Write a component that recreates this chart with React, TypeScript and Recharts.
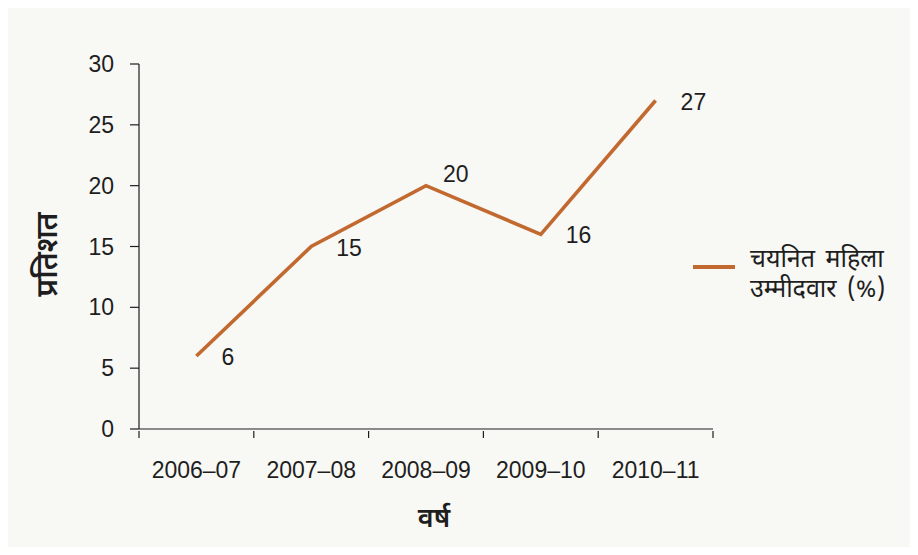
import React from "react";
import { LineChart, Line, XAxis, YAxis, LabelList } from "recharts";

const years = ["2006–07", "2007–08", "2008–09", "2009–10", "2010–11"];
const womenSelected = [6, 15, 20, 16, 27];
const yTicks = [0, 5, 10, 15, 20, 25, 30];

const seriesName = "चयनित महिला उम्मीदवार (%)";
const legendLines = ["चयनित महिला", "उम्मीदवार (%)"];
const xTitle = "वर्ष";
const yTitle = "प्रतिशत";

const data = years.map((year, i) => ({ year, value: womenSelected[i] }));

const LINE = "#c2692f";
const INK = "#1e1e1e";
const FONT = "'Liberation Sans', Arial, sans-serif";
const DEVA = "'Noto Sans Devanagari', 'Lohit Devanagari', 'Noto Sans', sans-serif";

// category label centred in the band, tick marks on band edges
function YearTick(props: any) {
  const { x, y, payload, index } = props;
  const half = payload?.offset || 57.4;
  const last = index === years.length - 1;
  return (
    <g>
      <line x1={x - half} y1={y} x2={x - half} y2={y + 7} stroke={INK} strokeWidth={1.2} />
      {last && <line x1={x + half} y1={y} x2={x + half} y2={y + 7} stroke={INK} strokeWidth={1.2} />}
      <text x={x} y={y + 41} textAnchor="middle" dominantBaseline="middle" fill={INK} fontSize={23} fontFamily={FONT}>
        {payload.value}
      </text>
    </g>
  );
}

function ValueLabel(props: any) {
  const { x, y, value, index } = props;
  const prev = womenSelected[index - 1];
  const next = womenSelected[index + 1];
  const peak = prev !== undefined && next !== undefined && value > prev && value > next;
  return (
    <text
      x={x + (peak ? 17 : 25)}
      y={y + (peak ? -10 : 3)}
      dominantBaseline="middle"
      fill={INK}
      fontSize={23}
      fontFamily={FONT}
    >
      {value}
    </text>
  );
}

function YTitle(props: any) {
  const { x, y, height } = props.viewBox;
  const cx = x + 10;
  const cy = y + height / 2 + 8;
  return (
    <text
      x={cx}
      y={cy}
      transform={`rotate(-90 ${cx} ${cy})`}
      textAnchor="middle"
      dominantBaseline="middle"
      fill={INK}
      fontSize={30}
      fontWeight={600}
      fontFamily={DEVA}
    >
      {yTitle}
    </text>
  );
}

function XTitle(props: any) {
  const { x, y, width, height } = props.viewBox;
  return (
    <text
      x={x + width / 2 + 8}
      y={y + height - 9}
      textAnchor="middle"
      dominantBaseline="middle"
      fill={INK}
      fontSize={27}
      fontWeight={600}
      fontFamily={DEVA}
    >
      {xTitle}
    </text>
  );
}

export default function App() {
  return (
    <div
      style={{
        position: "relative",
        width: 918,
        height: 555,
        margin: -8,
        background: "#f8f8f5",
        overflow: "hidden",
      }}
    >
      <div
        style={{
          position: "absolute",
          left: 3,
          top: 5,
          width: 930,
          height: 600,
          borderLeft: "2px solid #c4c090",
          borderTop: "2px solid #c4c090",
        }}
      />
      <LineChart width={918} height={555} data={data} margin={{ top: 64, right: 205, bottom: 26, left: 39 }}>
        <XAxis
          dataKey="year"
          scale="band"
          height={100}
          axisLine={{ stroke: INK, strokeWidth: 1.2 }}
          tickLine={false}
          tickSize={0}
          tick={<YearTick />}
          interval={0}
          label={{ content: <XTitle /> }}
        />
        <YAxis
          domain={[0, 30]}
          ticks={yTicks}
          width={100}
          axisLine={{ stroke: INK, strokeWidth: 1.2 }}
          tickLine={{ stroke: INK, strokeWidth: 1.2 }}
          tickSize={9}
          tickMargin={16}
          tick={{ fill: INK, fontSize: 23, fontFamily: FONT }}
          label={{ content: <YTitle /> }}
        />
        <Line
          type="linear"
          dataKey="value"
          name={seriesName}
          stroke={LINE}
          strokeWidth={3.6}
          dot={false}
          activeDot={false}
          isAnimationActive={false}
        >
          <LabelList dataKey="value" content={<ValueLabel />} />
        </Line>
      </LineChart>
      <div
        style={{
          position: "absolute",
          left: 693,
          top: 246,
          display: "flex",
          alignItems: "flex-start",
          fontFamily: DEVA,
          fontSize: 25,
          color: INK,
          lineHeight: "30px",
        }}
      >
        <div style={{ width: 42, height: 4, background: LINE, marginTop: 19, marginRight: 15 }} />
        <div>
          {legendLines.map((t) => (
            <div key={t} style={{ wordSpacing: 4 }}>{t}</div>
          ))}
        </div>
      </div>
    </div>
  );
}
